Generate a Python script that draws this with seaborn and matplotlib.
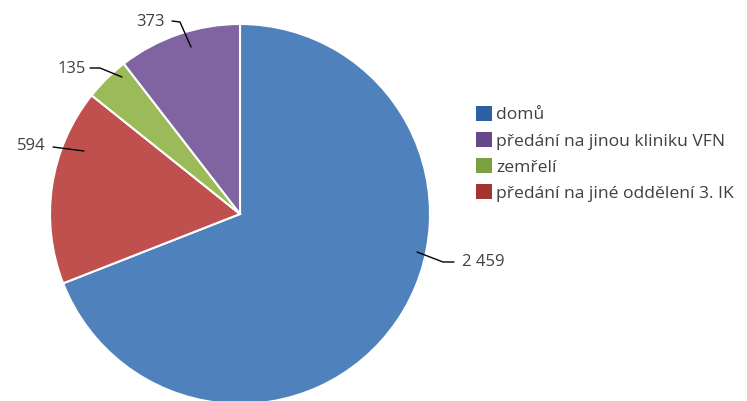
import numpy as np
import seaborn as sns
import matplotlib.pyplot as plt
from matplotlib.patches import Patch

# data
categories = ["domů", "předání na jiné oddělení 3. IK", "zemřelí", "předání na jinou kliniku VFN"]
values = [2459, 594, 135, 373]
value_labels = ["2 459", "594", "135", "373"]
pie_colors = ["#4F81BD", "#C0504D", "#9BBB59", "#8064A2"]
legend_colors = ["#2F5FA3", "#A33431", "#7DA03E", "#66488A"]
legend_order = [0, 3, 2, 1]

sns.set_theme(style="white")
plt.rcParams['font.family'] = ['Open Sans', 'DejaVu Sans']

W, H = 747, 401
cx, cy, R = 240, 214, 190


def px(x, y):
    # pixel position -> data coords (pie radius = 1)
    return (x - cx) / R, (cy - y) / R


fig = plt.figure(figsize=(W / 100, H / 100), dpi=100)
ax = fig.add_axes([0, 0, 1, 1])

ax.pie(values, colors=pie_colors, startangle=90, counterclock=False, radius=1,
       wedgeprops=dict(edgecolor='white', linewidth=1.5))

# pie() resets limits, so set them afterwards
ax.set_xlim(-cx / R, (W - cx) / R)
ax.set_ylim(-(H - cy) / R, cy / R)
ax.set_aspect('equal', adjustable='datalim')
ax.axis('off')

# data labels with leader lines
label_pos = {"2 459": (462, 262, 'left'), "594": (46, 146, 'right'),
             "135": (86, 69, 'right'), "373": (165, 22, 'right')}
leaders = {"2 459": [(417, 252), (443, 262), (454, 262)],
           "594": [(53, 147), (84, 151)],
           "135": [(90, 68), (100, 68), (122, 77)],
           "373": [(172, 21), (180, 22), (191, 47)]}
for lab in value_labels:
    x, y, ha = label_pos[lab]
    ax.text(*px(x, y), lab, ha=ha, va='center', fontsize=12, color='#404040')
    pts = np.array([px(a, b) for a, b in leaders[lab]])
    ax.plot(pts[:, 0], pts[:, 1], color='black', lw=1)

handles = [Patch(facecolor=legend_colors[i], edgecolor='none') for i in legend_order]
labels = [categories[i] for i in legend_order]
ax.legend(handles, labels, loc='upper left', bbox_to_anchor=(476 / W, 1 - 106 / H),
          frameon=False, fontsize=12.6, handlelength=0.9, handleheight=0.92,
          handletextpad=0.25, labelspacing=0.5, borderaxespad=0, borderpad=0,
          labelcolor='#404040')

fig.savefig('out.png', dpi=100)
